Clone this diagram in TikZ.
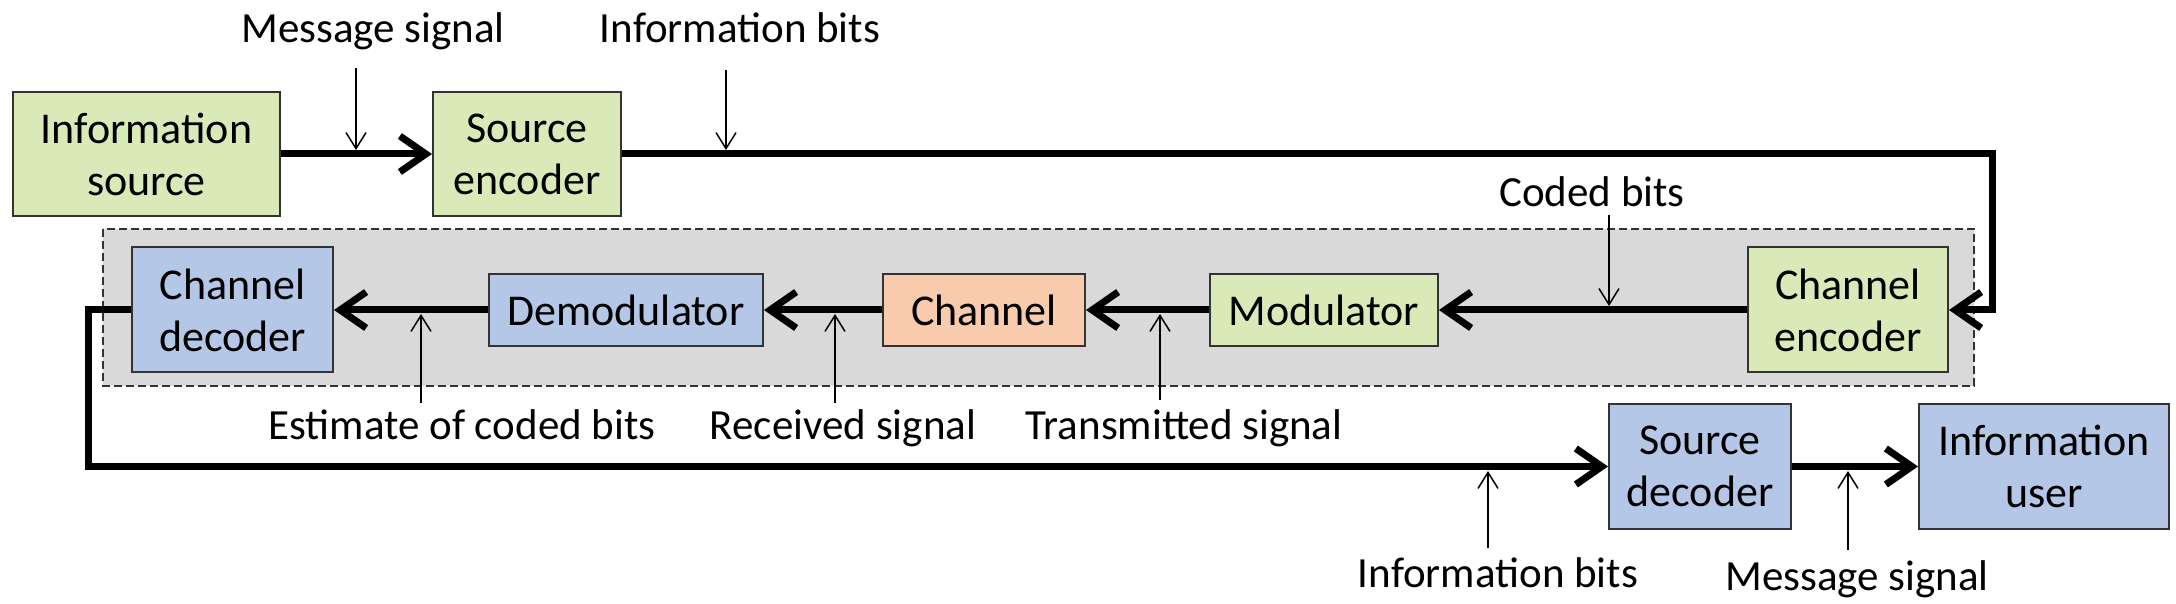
\documentclass[tikz,border=0pt]{standalone}
\usepackage{fontspec}
\setmainfont{Carlito}
\usetikzlibrary{arrows.meta}
\definecolor{boxgreen}{HTML}{D9EAB8}
\definecolor{boxblue}{HTML}{B4C7E7}
\definecolor{boxorange}{HTML}{F8CBAD}
\definecolor{bggray}{HTML}{D9D9D9}
\begin{document}
\begin{tikzpicture}[x=0.5pt,y=-0.5pt,
  box/.style={draw=black!80, line width=1pt, align=center, inner sep=0pt,
    font=\fontsize{22}{26}\selectfont},
  lbl/.style={font=\fontsize{21.5}{26}\selectfont, inner sep=0pt, anchor=base},
  flow/.style={line width=3.5pt, -{Straight Barb[length=13pt,width=18pt]}},
  pointer/.style={line width=0.75pt, -{Straight Barb[length=8pt,width=10pt]}},
  region/.style={draw=black!80, line width=0.75pt, dash pattern=on 4pt off 2pt, fill=bggray}
]
\useasboundingbox[fill=white] (0,0) rectangle (2176,604);
\draw[region] (103,229) rectangle (1974,386);

\node[box, fill=boxgreen, minimum width=133.5pt, minimum height=62pt] (isrc) at (146.5,154) {Information\\source};
\node[box, fill=boxgreen, minimum width=94pt, minimum height=62pt] (senc) at (527,154) {Source\\encoder};
\node[box, fill=boxgreen, minimum width=100pt, minimum height=62.5pt] (cenc) at (1848,310) {Channel\\encoder};
\node[box, fill=boxgreen, minimum width=114pt, minimum height=36pt] (mod) at (1324,310) {Modulator};
\node[box, fill=boxorange, minimum width=101pt, minimum height=36pt] (chan) at (984,310) {Channel};
\node[box, fill=boxblue, minimum width=137pt, minimum height=36pt] (demod) at (626,310) {Demodulator};
\node[box, fill=boxblue, minimum width=100.5pt, minimum height=62.5pt] (cdec) at (232.5,310) {Channel\\decoder};
\node[box, fill=boxblue, minimum width=91pt, minimum height=62.5pt] (sdec) at (1700,466.5) {Source\\decoder};
\node[box, fill=boxblue, minimum width=125pt, minimum height=62.5pt] (iuser) at (2044,466.5) {Information\\user};

\coordinate (tr) at (1992,154);
\coordinate (fb) at (88,310);

\draw[flow] (isrc.east) -- (senc.west);
\draw[flow] (senc.east) -- (tr) |- (cenc.east);
\draw[flow] (cenc.west) -- (mod.east);
\draw[flow] (mod.west) -- (chan.east);
\draw[flow] (chan.west) -- (demod.east);
\draw[flow] (demod.west) -- (cdec.east);
\draw[flow] (cdec.west) -- (fb) |- (sdec.west);
\draw[flow] (sdec.east) -- (iuser.west);

% pointer coordinates
\coordinate (p1s) at (356,68);   \coordinate (p1e) at (356,150);
\coordinate (p2s) at (726,70);   \coordinate (p2e) at (726,150);
\coordinate (p3s) at (1609,215); \coordinate (p3e) at (1609,306);
\coordinate (p4s) at (1160,400); \coordinate (p4e) at (1160,314);
\coordinate (p5s) at (835,403);  \coordinate (p5e) at (835,314);
\coordinate (p6s) at (421,403);  \coordinate (p6e) at (421,314);
\coordinate (p7s) at (1488,548); \coordinate (p7e) at (1488,471);
\coordinate (p8s) at (1848,550); \coordinate (p8e) at (1848,471);

\draw[pointer] (p1s) -- (p1e);
\draw[pointer] (p2s) -- (p2e);
\draw[pointer] (p3s) -- (p3e);
\draw[pointer] (p4s) -- (p4e);
\draw[pointer] (p5s) -- (p5e);
\draw[pointer] (p6s) -- (p6e);
\draw[pointer] (p7s) -- (p7e);
\draw[pointer] (p8s) -- (p8e);

\node[lbl] (l1) at (373,43) {Message signal};
\node[lbl] (l2) at (740,43) {Information bits};
\node[lbl] (l3) at (1592,207) {Coded bits};
\node[lbl] (l4) at (462,440) {Estimate of coded bits};
\node[lbl] (l5) at (843,440) {Received signal};
\node[lbl] (l6) at (1184,440) {Transmitted signal};
\node[lbl] (l7) at (1498,587) {Information bits};
\node[lbl] (l8) at (1857,590) {Message signal};
\end{tikzpicture}
\end{document}
